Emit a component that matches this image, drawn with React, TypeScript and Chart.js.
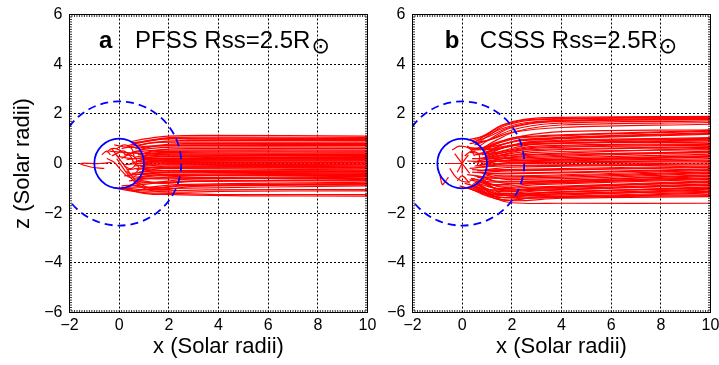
import React, { useEffect, useRef } from 'react';
import { Chart, registerables } from 'chart.js';

Chart.register(...registerables);

// ---------- axis / text data ----------
const xTickValues = [-2, 0, 2, 4, 6, 8, 10];
const zTickValues = [-6, -4, -2, 0, 2, 4, 6];
const xRange = [-2, 10];
const zRange = [-6, 6];
const panelLetters = ['a', 'b'];
const panelTitles = ['PFSS Rss=2.5R', 'CSSS Rss=2.5R'];
const sunSymbol = '\u2299';
const xAxisTitle = 'x (Solar radii)';
const zAxisTitle = 'z (Solar radii)';
const sunRadius = 1;
const sourceSurfaceRadius = 2.5;

// ---------- field lines: flat [x0, z0, x1, z1, ...] ----------
const pfssOpenLines: number[][] = [
  [0.45, 0.88, 1.1, 1.0, 2, 1.1, 3.5, 1.13, 10, 1.1],
  [0.6, 0.8, 1.3, 0.95, 2.2, 1.05, 4, 1.06, 10, 1.05],
  [0.5, 0.82, 1.2, 0.92, 2.1, 1.01, 10, 1.0],
  [0.3, 0.7, 0.9, 0.85, 1.8, 0.98, 3, 0.98, 10, 0.97],
  [0.7, 0.7, 1.4, 0.85, 2.5, 0.92, 10, 0.92],
  [0.1, 0.6, 0.8, 0.75, 1.6, 0.85, 3, 0.86, 10, 0.86],
  [0.8, 0.55, 1.5, 0.72, 2.6, 0.8, 10, 0.8],
  [0.65, 0.6, 1.4, 0.7, 2.5, 0.75, 10, 0.76],
  [-0.2, 0.75, 0.4, 0.65, 1.2, 0.7, 2.4, 0.72, 10, 0.72],
  [0.5, 0.45, 1.2, 0.6, 2.2, 0.66, 10, 0.66],
  [0.9, 0.4, 1.6, 0.55, 3, 0.6, 10, 0.6],
  [0.2, 0.35, 1, 0.5, 2, 0.54, 10, 0.54],
  [0.75, 0.35, 1.5, 0.48, 10, 0.5],
  [0.85, 0.3, 1.6, 0.44, 10, 0.46],
  [-0.4, 0.5, 0.2, 0.45, 1, 0.4, 2, 0.42, 10, 0.42],
  [0.6, 0.25, 1.3, 0.35, 2.5, 0.38, 10, 0.38],
  [0.9, 0.28, 1.7, 0.34, 10, 0.36],
  [0.95, 0.2, 1.8, 0.3, 10, 0.33],
  [0.3, 0.15, 1.1, 0.25, 2.5, 0.29, 10, 0.29],
  [0.7, 0.1, 1.5, 0.22, 10, 0.25],
  [-0.1, 0.3, 0.5, 0.2, 1.4, 0.2, 10, 0.21],
  [0.85, 0.15, 1.7, 0.18, 10, 0.19],
  [1.0, 0.1, 2, 0.16, 10, 0.17],
  [0.5, 0.05, 1.5, 0.12, 10, 0.13],
  [0.95, 0.05, 1.9, 0.1, 10, 0.11],
  [0.8, 0.0, 1.8, 0.08, 10, 0.09],
  [0.2, -0.05, 1.2, 0.03, 10, 0.05],
  [0.7, -0.02, 1.6, 0.03, 10, 0.03],
  [1.0, -0.05, 2, 0.0, 10, 0.01],
  [0.6, -0.1, 1.5, -0.05, 10, -0.03],
  [0.85, -0.12, 1.8, -0.06, 10, -0.05],
  [0.9, -0.2, 2, -0.1, 10, -0.07],
  [0.3, -0.25, 1.3, -0.15, 10, -0.11],
  [0.7, -0.25, 1.6, -0.16, 10, -0.14],
  [0.8, -0.35, 1.8, -0.2, 10, -0.16],
  [0.95, -0.25, 1.9, -0.2, 10, -0.19],
  [0.5, -0.4, 1.5, -0.3, 10, -0.22],
  [0.95, -0.3, 2, -0.28, 10, -0.27],
  [0.65, -0.45, 1.6, -0.35, 10, -0.3],
  [0.2, -0.5, 1.2, -0.4, 3, -0.33, 10, -0.32],
  [0.85, -0.45, 1.8, -0.38, 10, -0.35],
  [0.7, -0.55, 1.6, -0.45, 10, -0.38],
  [0.55, -0.6, 1.5, -0.5, 10, -0.41],
  [0.9, -0.45, 2, -0.48, 10, -0.44],
  [0.4, -0.7, 1.3, -0.6, 3, -0.5, 10, -0.49],
  [0.75, -0.6, 1.7, -0.58, 10, -0.52],
  [0.8, -0.6, 1.8, -0.62, 10, -0.55],
  [0.6, -0.8, 1.5, -0.75, 3, -0.62, 10, -0.6],
  [0.1, -0.9, 0.9, -0.85, 2, -0.75, 10, -0.64],
  [0.65, -0.72, 1.6, -0.78, 3, -0.7, 10, -0.67],
  [0.75, -0.66, 1.7, -0.8, 3, -0.72, 10, -0.7],
  [0.3, -0.95, 1.2, -0.95, 2.3, -0.85, 10, -0.75],
  [0.5, -0.87, 1.4, -1.0, 2.5, -0.9, 10, -0.8],
  [0.45, -0.85, 1.3, -0.98, 2.6, -0.88, 10, -0.83],
  [-0.3, 0.6, 0.3, -0.2, 0.8, -0.8, 1.6, -1.05, 3, -0.92, 10, -0.86],
  [0.2, -0.98, 1.0, -1.05, 2.2, -1.0, 10, -0.9],
  [0.0, -1.0, 0.9, -1.1, 2, -1.1, 3.5, -1.06, 10, -1.05],
  [-0.1, 0.2, 0.4, -0.5, 1, -1.0, 2, -1.15, 4, -1.12, 10, -1.1],
  [-0.2, -0.98, 0.8, -1.15, 2, -1.2, 4, -1.25, 10, -1.25],
  [0.1, -0.95, 1, -1.2, 2.2, -1.25, 5, -1.3, 10, -1.31],
];

const pfssClosedLines: number[][] = [
  [-0.5, 0.45, -0.3, 0.6, 0.0, 0.55, 0.3, 0.35, 0.5, 0.4],
  [-0.3, 0.3, 0.0, 0.45, 0.2, 0.5, 0.45, 0.3, 0.6, 0.0],
  [0.1, 0.2, 0.4, 0.35, 0.7, 0.15, 0.5, -0.2, 0.2, -0.1],
  [-0.5, 0.2, -0.2, 0.05, 0.1, -0.3, 0.4, -0.55, 0.7, -0.5],
  [0.3, -0.3, 0.5, -0.45, 0.8, -0.2, 0.6, 0.05],
  [-0.3, 0.05, -0.8, 0.0, -1.55, 0.0, -1.1, -0.15, -0.6, -0.2],
  [-0.7, 0.35, -0.5, 0.5, -0.35, 0.35],
  [-0.1, 0.6, 0.2, 0.75, 0.5, 0.6, 0.6, 0.3],
];

const csssOpenLines: number[][] = [
  [0.4, 0.9, 1.0, 1.2, 1.6, 1.55, 2.5, 1.78, 4, 1.86, 10, 1.9],
  [0.5, 0.86, 1.05, 1.2, 1.7, 1.56, 2.8, 1.78, 10, 1.88],
  [0.6, 0.8, 1.1, 1.15, 1.8, 1.55, 3, 1.76, 10, 1.86],
  [0.2, 0.95, 0.9, 1.1, 1.6, 1.4, 2.6, 1.65, 5, 1.76, 10, 1.82],
  [0.45, 0.85, 1.1, 1.1, 1.9, 1.45, 3.2, 1.68, 10, 1.8],
  [0.7, 0.7, 1.3, 1.1, 2, 1.45, 3.5, 1.68, 10, 1.78],
  [0.5, 0.75, 1.2, 1.0, 2, 1.35, 3.5, 1.6, 10, 1.72],
  [0.8, 0.6, 1.4, 0.95, 2.2, 1.3, 4, 1.55, 10, 1.65],
  [0.3, 0.8, 1.1, 0.95, 2, 1.25, 4, 1.45, 10, 1.58],
  [0.85, 0.5, 1.5, 0.85, 2.4, 1.1, 4, 1.28, 10, 1.36],
  [0.7, 0.55, 1.4, 0.85, 2.4, 1.08, 10, 1.33],
  [0.6, 0.55, 1.4, 0.8, 2.5, 1.05, 10, 1.3],
  [0.9, 0.4, 1.6, 0.75, 2.6, 0.98, 10, 1.24],
  [0.55, 0.6, 1.4, 0.72, 2.5, 0.95, 10, 1.21],
  [0.4, 0.6, 1.3, 0.7, 2.4, 0.92, 10, 1.18],
  [0.95, 0.3, 1.7, 0.65, 3, 0.9, 10, 1.04],
  [0.8, 0.35, 1.6, 0.62, 3, 0.87, 10, 1.01],
  [0.7, 0.4, 1.5, 0.6, 3, 0.85, 10, 0.98],
  [0.35, 0.55, 1.2, 0.58, 2.6, 0.78, 10, 0.95],
  [0.2, 0.65, 1.0, 0.6, 2.2, 0.75, 10, 0.92],
  [0.9, 0.25, 1.6, 0.5, 3, 0.78, 10, 0.86],
  [0.5, 0.35, 1.4, 0.45, 3, 0.7, 10, 0.8],
  [0.85, 0.2, 1.7, 0.45, 3, 0.66, 10, 0.77],
  [0.95, 0.15, 1.8, 0.4, 3, 0.62, 10, 0.74],
  [0.3, 0.45, 1.2, 0.38, 2.5, 0.55, 10, 0.68],
  [0.65, 0.2, 1.5, 0.33, 3, 0.52, 10, 0.65],
  [0.8, 0.2, 1.7, 0.32, 10, 0.62],
  [0.6, 0.1, 1.5, 0.25, 3, 0.45, 10, 0.56],
  [1.0, 0.05, 2, 0.25, 10, 0.5],
  [0.75, 0.05, 1.7, 0.2, 10, 0.47],
  [0.4, 0.2, 1.3, 0.2, 3, 0.35, 10, 0.44],
  [0.9, 0.0, 1.9, 0.15, 10, 0.38],
  [0.7, -0.05, 1.6, 0.1, 10, 0.32],
  [0.45, 0.05, 1.4, 0.1, 10, 0.29],
  [0.2, 0.1, 1.2, 0.08, 10, 0.26],
  [0.95, -0.1, 2, 0.05, 10, 0.2],
  [0.5, -0.1, 1.5, 0.0, 10, 0.14],
  [0.85, -0.05, 1.8, 0.02, 10, 0.11],
  [0.8, -0.15, 1.8, -0.02, 10, 0.08],
  [0.3, -0.2, 1.3, -0.1, 10, 0.03],
  [0.65, -0.15, 1.6, -0.1, 10, -0.02],
  [0.9, -0.25, 2, -0.15, 10, -0.05],
  [0.6, -0.3, 1.6, -0.25, 10, -0.1],
  [0.4, -0.25, 1.4, -0.28, 10, -0.13],
  [0.95, -0.35, 1.9, -0.3, 10, -0.16],
  [0.4, -0.35, 1.4, -0.4, 10, -0.22],
  [0.7, -0.35, 1.6, -0.42, 10, -0.25],
  [0.8, -0.4, 1.7, -0.5, 10, -0.28],
  [0.2, -0.45, 1.2, -0.55, 10, -0.34],
  [0.5, -0.5, 1.4, -0.6, 10, -0.37],
  [0.9, -0.45, 1.9, -0.65, 10, -0.4],
  [0.6, -0.55, 1.5, -0.72, 10, -0.46],
  [0.35, -0.6, 1.3, -0.75, 10, -0.49],
  [0.85, -0.55, 1.8, -0.8, 10, -0.52],
  [0.3, -0.65, 1.3, -0.85, 3, -0.75, 10, -0.58],
  [0.55, -0.65, 1.5, -0.9, 3, -0.8, 10, -0.61],
  [0.75, -0.65, 1.6, -0.95, 3, -0.85, 10, -0.64],
  [0.5, -0.75, 1.4, -1.0, 2.8, -0.95, 10, -0.7],
  [0.65, -0.72, 1.6, -1.05, 3, -0.98, 10, -0.73],
  [0.7, -0.7, 1.7, -1.1, 3, -1.0, 10, -0.76],
  [0.1, -0.8, 1.1, -1.05, 2.5, -1.05, 10, -0.82],
  [0.45, -0.8, 1.4, -1.12, 2.8, -1.08, 10, -0.85],
  [0.6, -0.8, 1.5, -1.2, 3, -1.1, 10, -0.88],
  [0.4, -0.85, 1.3, -1.2, 2.5, -1.2, 10, -0.94],
  [0.55, -0.83, 1.5, -1.25, 3, -1.18, 10, -0.97],
  [0.8, -0.6, 1.8, -1.3, 3.5, -1.15, 10, -1.0],
  [0.35, -0.9, 1.2, -1.25, 2.6, -1.25, 10, -1.03],
  [-0.1, -0.9, 1.0, -1.2, 2.2, -1.3, 10, -1.06],
  [0.5, -0.87, 1.4, -1.35, 3, -1.25, 10, -1.12],
  [0.25, -0.95, 1.2, -1.32, 2.6, -1.35, 10, -1.15],
  [0.3, -0.92, 1.2, -1.3, 2.4, -1.4, 10, -1.18],
  [0.6, -0.82, 1.6, -1.45, 3, -1.35, 10, -1.25],
  [0.45, -0.88, 1.5, -1.45, 3, -1.38, 10, -1.29],
  [0.2, -0.95, 1.1, -1.35, 2, -1.5, 4, -1.4, 10, -1.33],
  [0.4, -0.9, 1.3, -1.4, 2, -1.58, 4, -1.6, 10, -1.6],
];

const csssClosedLines: number[][] = [
  [-0.9, -0.45, -0.8, -0.85, -0.7, -0.75, -0.55, -0.55],
  [-0.6, 0.0, -0.3, 0.0, 0.0, 0.0],
  [-0.3, 0.4, 0.0, 0.0, 0.3, -0.4],
  [-0.2, -0.35, 0.0, 0.0, 0.25, 0.35],
  [0.0, 0.45, 0.0, 0.0, 0.0, -0.4],
  [-0.4, 0.55, -0.1, 0.7, 0.3, 0.6, 0.5, 0.3],
  [-0.5, -0.2, -0.2, -0.6, 0.2, -0.75, 0.5, -0.6],
  [0.1, 0.3, 0.4, 0.5, 0.7, 0.3, 0.6, -0.1],
  [-0.2, -0.7, 0.0, -0.5, 0.3, -0.8],
  [0.2, 0.7, 0.5, 0.55, 0.7, 0.65],
];

// ---------- styles ----------
const FONT = '"Liberation Sans", Arial, Helvetica, sans-serif';
const RED = 'rgb(255,0,0)';
const BLUE = '#0000ff';

const toPoints = (arr: number[]) => {
  const pts: { x: number; y: number }[] = [];
  for (let i = 0; i < arr.length; i += 2) pts.push({ x: arr[i], y: arr[i + 1] });
  return pts;
};

const fmt = (v: number) => (v < 0 ? '\u2212' + Math.abs(v) : String(v));

const overlay = {
  id: 'overlay',
  afterDraw(chart: any, _args: any, opts: any) {
    const { ctx, chartArea: a, scales } = chart;
    const x = scales.x, y = scales.y;
    const cx = x.getPixelForValue(0);
    const cy = y.getPixelForValue(0);

    // sun and source surface
    ctx.save();
    ctx.beginPath();
    ctx.rect(a.left, a.top, a.right - a.left, a.bottom - a.top);
    ctx.clip();
    ctx.strokeStyle = BLUE;
    ctx.lineWidth = 1.8;
    ctx.beginPath();
    ctx.arc(cx, cy, x.getPixelForValue(sunRadius) - cx, 0, Math.PI * 2);
    ctx.stroke();
    ctx.setLineDash([8, 5]);
    ctx.beginPath();
    ctx.arc(cx, cy, x.getPixelForValue(sourceSurfaceRadius) - cx, 0, Math.PI * 2);
    ctx.stroke();
    ctx.restore();

    // panel title
    const idx = opts.index;
    ctx.save();
    ctx.fillStyle = '#000';
    ctx.textBaseline = 'alphabetic';
    ctx.textAlign = 'left';
    const by = a.top + 33;
    ctx.font = 'bold 24px ' + FONT;
    ctx.fillText(panelLetters[idx], a.left + opts.letterOffset, by);
    ctx.font = '24px ' + FONT;
    const tx = a.left + opts.titleOffset;
    ctx.fillText(panelTitles[idx], tx, by);
    const w = ctx.measureText(panelTitles[idx]).width;
    ctx.font = '22px "DejaVu Sans", sans-serif';
    ctx.textBaseline = 'middle';
    ctx.fillText(sunSymbol, tx + w + 1, a.top + 33);
    ctx.restore();

    // frame + minor ticks (inward)
    ctx.save();
    ctx.strokeStyle = '#000';
    ctx.lineWidth = 1;
    ctx.strokeRect(a.left, a.top, a.right - a.left, a.bottom - a.top);
    ctx.beginPath();
    for (let k = 0; k <= 120; k++) {
      const v = xRange[0] + k * 0.1;
      const px = x.getPixelForValue(v);
      ctx.moveTo(px, a.top);
      ctx.lineTo(px, a.top + 2.5);
      ctx.moveTo(px, a.bottom);
      ctx.lineTo(px, a.bottom - 2.5);
      const wv = zRange[0] + k * 0.1;
      const py = y.getPixelForValue(wv);
      ctx.moveTo(a.left, py);
      ctx.lineTo(a.left + 2.5, py);
      ctx.moveTo(a.right, py);
      ctx.lineTo(a.right - 2.5, py);
    }
    ctx.lineWidth = 0.8;
    ctx.stroke();
    ctx.restore();
  },
};

type PanelProps = {
  index: number;
  left: number;
  width: number;
  yAxisWidth: number;
  rightPad: number;
  openLines: number[][];
  closedLines: number[][];
  showYTitle: boolean;
  letterOffset: number;
  titleOffset: number;
};

function Panel(p: PanelProps) {
  const ref = useRef<HTMLCanvasElement>(null);
  useEffect(() => {
    const all = [...p.openLines, ...p.closedLines];
    const datasets = all.map((arr) => ({
      data: toPoints(arr),
      showLine: true,
      borderColor: RED,
      backgroundColor: RED,
      borderWidth: 1.2,
      pointRadius: 0,
      pointHoverRadius: 0,
      tension: 0.4,
      fill: false,
    }));
    const zeroPad = (s: any) => {
      s.paddingLeft = 0;
      s.paddingRight = 0;
      s.paddingTop = 0;
      s.paddingBottom = 0;
    };
    const chart = new Chart(ref.current as HTMLCanvasElement, {
      type: 'scatter',
      data: { datasets },
      plugins: [overlay],
      options: {
        responsive: false,
        animation: false,
        devicePixelRatio: 1,
        events: [],
        layout: { padding: { top: 14.5, right: p.rightPad, left: 0, bottom: 0 } },
        plugins: {
          legend: { display: false },
          tooltip: { enabled: false },
          overlay: { index: p.index, letterOffset: p.letterOffset, titleOffset: p.titleOffset },
        } as any,
        scales: {
          x: {
            type: 'linear',
            z: 1,
            min: xRange[0],
            max: xRange[1],
            afterBuildTicks: (s: any) => {
              s.ticks = xTickValues.map((v) => ({ value: v }));
            },
            afterFit: (s: any) => {
              s.height = 52.5;
              zeroPad(s);
            },
            grid: { color: '#000', lineWidth: 1, drawTicks: false },
            border: { display: false, dash: [2, 2] },
            ticks: {
              color: '#000',
              padding: 3,
              maxRotation: 0,
              autoSkip: false,
              font: { family: FONT, size: 16 },
              callback: (v: any) => fmt(Number(v)),
            },
            title: {
              display: true,
              text: xAxisTitle,
              color: '#000',
              font: { family: FONT, size: 22 },
              padding: { top: 0, bottom: 5 },
            },
          },
          y: {
            type: 'linear',
            z: 1,
            min: zRange[0],
            max: zRange[1],
            afterBuildTicks: (s: any) => {
              s.ticks = zTickValues.map((v) => ({ value: v }));
            },
            afterFit: (s: any) => {
              s.width = p.yAxisWidth;
              zeroPad(s);
            },
            grid: { color: '#000', lineWidth: 1, drawTicks: false },
            border: { display: false, dash: [2, 2] },
            ticks: {
              color: '#000',
              padding: 7,
              autoSkip: false,
              font: { family: FONT, size: 16 },
              callback: (v: any) => fmt(Number(v)),
            },
            title: {
              display: p.showYTitle,
              text: zAxisTitle,
              color: '#000',
              font: { family: FONT, size: 22 },
              padding: { top: 10, bottom: 0 },
            },
          },
        },
      } as any,
    });
    return () => chart.destroy();
  }, []);
  return (
    <canvas
      ref={ref}
      width={p.width}
      height={365}
      style={{ position: 'absolute', left: p.left, top: 0, width: p.width, height: 365 }}
    />
  );
}

export default function App() {
  return (
    <div style={{ position: 'absolute', left: 0, top: 0, width: 719, height: 365, background: '#fff' }}>
      <Panel
        index={0}
        left={0}
        width={380}
        yAxisWidth={69.5}
        rightPad={12.5}
        openLines={pfssOpenLines}
        closedLines={pfssClosedLines}
        showYTitle={true}
        letterOffset={29.5}
        titleOffset={65.5}
      />
      <Panel
        index={1}
        left={360}
        width={359}
        yAxisWidth={52.5}
        rightPad={8.5}
        openLines={csssOpenLines}
        closedLines={csssClosedLines}
        showYTitle={false}
        letterOffset={32.3}
        titleOffset={67.3}
      />
    </div>
  );
}
